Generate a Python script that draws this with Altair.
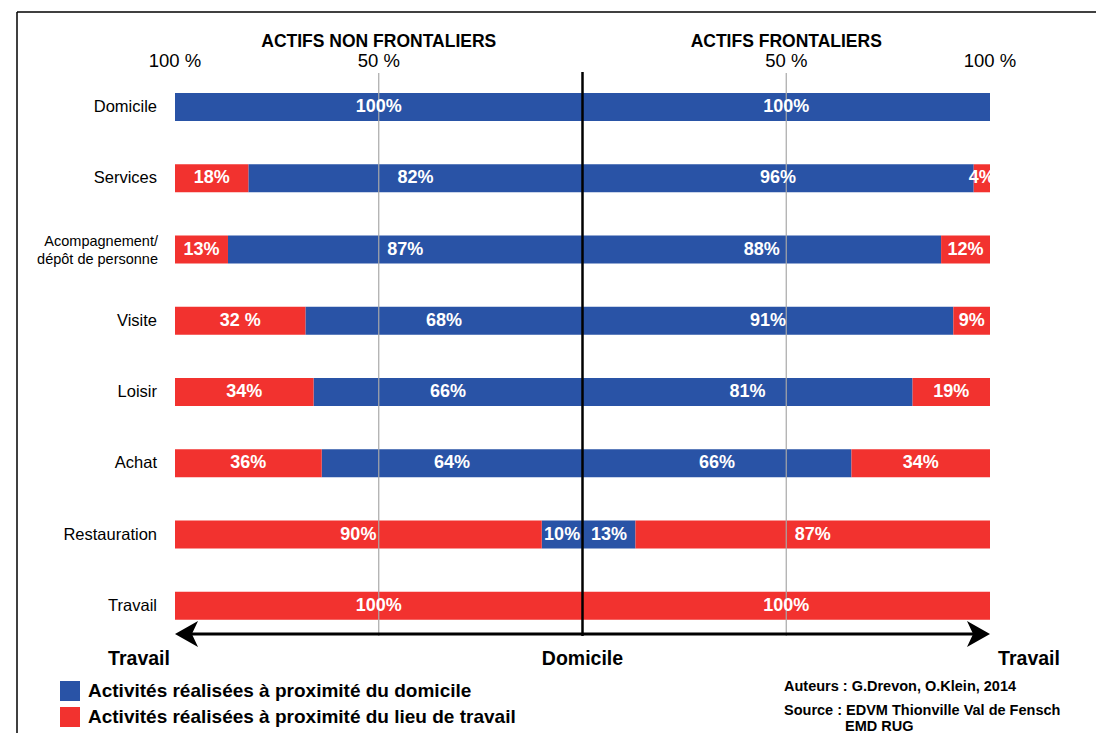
import altair as alt
import pandas as pd

FONT = "Liberation Sans, Arial, Helvetica, sans-serif"

# ---------------- data ----------------
categories = ["Domicile", "Services", "Acompagnement/\ndépôt de personne", "Visite",
              "Loisir", "Achat", "Restauration", "Travail"]
left_home = [100, 82, 87, 68, 66, 64, 10, 0]
left_work = [0, 18, 13, 32, 34, 36, 90, 100]
right_home = [100, 96, 88, 91, 81, 66, 13, 0]
right_work = [0, 4, 12, 9, 19, 34, 87, 100]
left_home_labels = ["100%", "82%", "87%", "68%", "66%", "64%", "10%", ""]
left_work_labels = ["", "18%", "13%", "32 %", "34%", "36%", "90%", "100%"]
right_home_labels = ["100%", "96%", "88%", "91%", "81%", "66%", "13%", ""]
right_work_labels = ["", "4%", "12%", "9%", "19%", "34%", "87%", "100%"]
series = ["Activités réalisées à proximité du domicile",
          "Activités réalisées à proximité du lieu de travail"]
colors = ["#2953a6", "#f2322f"]
side_titles = ["ACTIFS NON FRONTALIERS", "ACTIFS FRONTALIERS"]
side_centers = [-50, 50]
tick_values = [-100, -50, 50, 100]
tick_labels = ["100 %", "50 %", "50 %", "100 %"]
grid_values = [-50, 50]

# ---------------- table ----------------
rows = []
for i, cat in enumerate(categories):
    lh, lw, rh, rw = left_home[i], left_work[i], right_home[i], right_work[i]
    segs = [
        (0, -lh, series[0], left_home_labels[i]),
        (-lh, -lh - lw, series[1], left_work_labels[i]),
        (0, rh, series[0], right_home_labels[i]),
        (rh, rh + rw, series[1], right_work_labels[i]),
    ]
    for a, b, s, lab in segs:
        if a != b:
            rows.append({"cat": cat, "x0": a, "x1": b, "mid": (a + b) / 2,
                         "series": s, "label": lab})
seg = pd.DataFrame(rows)

xscale = alt.Scale(domain=[-100, 100], range=[167, 982])
yscale = alt.Scale(domain=categories, range=[63.4, 633.4],
                   paddingInner=0.607, paddingOuter=0.3035)

bars = alt.Chart(seg).mark_bar(strokeWidth=0).encode(
    x=alt.X("x0:Q", scale=xscale, axis=None),
    x2="x1:Q",
    y=alt.Y("cat:N", scale=yscale, axis=None),
    color=alt.Color("series:N", scale=alt.Scale(domain=series, range=colors),
                    legend=alt.Legend(orient="none", legendX=52, legendY=673, title=None,
                                      symbolType="square", symbolSize=400,
                                      symbolStrokeWidth=0, symbolOpacity=1,
                                      labelFont=FONT, labelFontSize=19,
                                      labelFontWeight="bold", labelColor="black",
                                      labelOffset=8, rowPadding=6, padding=0,
                                      labelLimit=0)),
)

bar_labels = alt.Chart(seg).mark_text(
    color="white", fontSize=18, fontWeight="bold", baseline="middle", align="center"
).encode(
    x=alt.X("mid:Q", scale=xscale),
    y=alt.Y("cat:N", scale=yscale),
    text="label:N",
)

grid = alt.Chart(pd.DataFrame({"g": grid_values})).mark_rule(
    color="#a8a8a8", strokeWidth=1.2
).encode(x=alt.X("g:Q", scale=xscale), y=alt.value(65), y2=alt.value(628))

center = alt.Chart(pd.DataFrame({"c": [0]})).mark_rule(
    color="black", strokeWidth=2.5
).encode(x=alt.X("c:Q", scale=xscale), y=alt.value(64), y2=alt.value(628))

headers = alt.Chart(pd.DataFrame({"x": side_centers, "t": side_titles})).mark_text(
    fontSize=17.5, fontWeight="bold", baseline="middle", color="black"
).encode(x=alt.X("x:Q", scale=xscale), y=alt.value(34), text="t:N")

ticks = alt.Chart(pd.DataFrame({"x": tick_values, "t": tick_labels})).mark_text(
    fontSize=18.5, baseline="middle", color="black"
).encode(x=alt.X("x:Q", scale=xscale), y=alt.value(53), text="t:N")

cat_df = pd.DataFrame({"cat": categories})
cat_single = alt.Chart(cat_df).transform_filter(
    "indexof(datum.cat, '\\n') < 0"
).mark_text(
    align="right", baseline="middle", fontSize=16.5, color="black"
).encode(x=alt.value(149), y=alt.Y("cat:N", scale=yscale), text="cat:N")

cat_multi = alt.Chart(cat_df).transform_filter(
    "indexof(datum.cat, '\\n') >= 0"
).mark_text(
    align="right", baseline="middle", fontSize=14.5, lineBreak="\n", lineHeight=18,
    dy=-8, color="black"
).encode(x=alt.value(150), y=alt.Y("cat:N", scale=yscale), text="cat:N")

arrow_line = alt.Chart(pd.DataFrame({"a": [-96], "b": [96]})).mark_rule(
    color="black", strokeWidth=3
).encode(x=alt.X("a:Q", scale=xscale), x2="b:Q", y=alt.value(626))

left_head = alt.Chart(pd.DataFrame({"t": [-100]})).mark_point(
    shape="M0,0L1.77,-1L1.3,0L1.77,1Z", size=676, filled=True, color="black",
    opacity=1, strokeWidth=0
).encode(x=alt.X("t:Q", scale=xscale), y=alt.value(626))

right_head = alt.Chart(pd.DataFrame({"t": [100]})).mark_point(
    shape="M0,0L-1.77,-1L-1.3,0L-1.77,1Z", size=676, filled=True, color="black",
    opacity=1, strokeWidth=0
).encode(x=alt.X("t:Q", scale=xscale), y=alt.value(626))


def note(text, px, py, size, align="center", weight="bold"):
    return alt.Chart(pd.DataFrame({"t": [text]})).mark_text(
        fontSize=size, fontWeight=weight, align=align, baseline="middle", color="black"
    ).encode(x=alt.value(px), y=alt.value(py), text="t:N")


domicile_lbl = alt.Chart(pd.DataFrame({"x": [0], "t": ["Domicile"]})).mark_text(
    fontSize=19.5, fontWeight="bold", baseline="middle", color="black"
).encode(x=alt.X("x:Q", scale=xscale), y=alt.value(651), text="t:N")

notes = [
    note("Travail", 131, 651, 19.5),
    note("Travail", 1021, 651, 19.5),
    note("Auteurs : G.Drevon, O.Klein, 2014", 776, 679, 14.5, align="left"),
    note("Source : EDVM Thionville Val de Fensch", 776, 703, 14.5, align="left"),
    note("EMD RUG", 837, 719, 14.5, align="left"),
]

frame_top = alt.Chart(pd.DataFrame({"a": [0]})).mark_rule(color="black", strokeWidth=1.5).encode(
    x=alt.value(9), x2=alt.value(1088), y=alt.value(4))
frame_left = alt.Chart(pd.DataFrame({"a": [0]})).mark_rule(color="black", strokeWidth=1.5).encode(
    x=alt.value(9), y=alt.value(4), y2=alt.value(725))

chart = alt.layer(
    bars, grid, bar_labels, center, headers, ticks, cat_single, cat_multi,
    arrow_line, left_head, right_head, domicile_lbl, *notes, frame_top, frame_left
).properties(
    width=1088, height=725, padding=0,
    autosize=alt.AutoSizeParams(type="none"),
).configure_view(strokeWidth=0).configure_text(font=FONT).configure_legend(labelFont=FONT)

chart.save("out.html", embed_options={"renderer": "svg", "actions": False})
